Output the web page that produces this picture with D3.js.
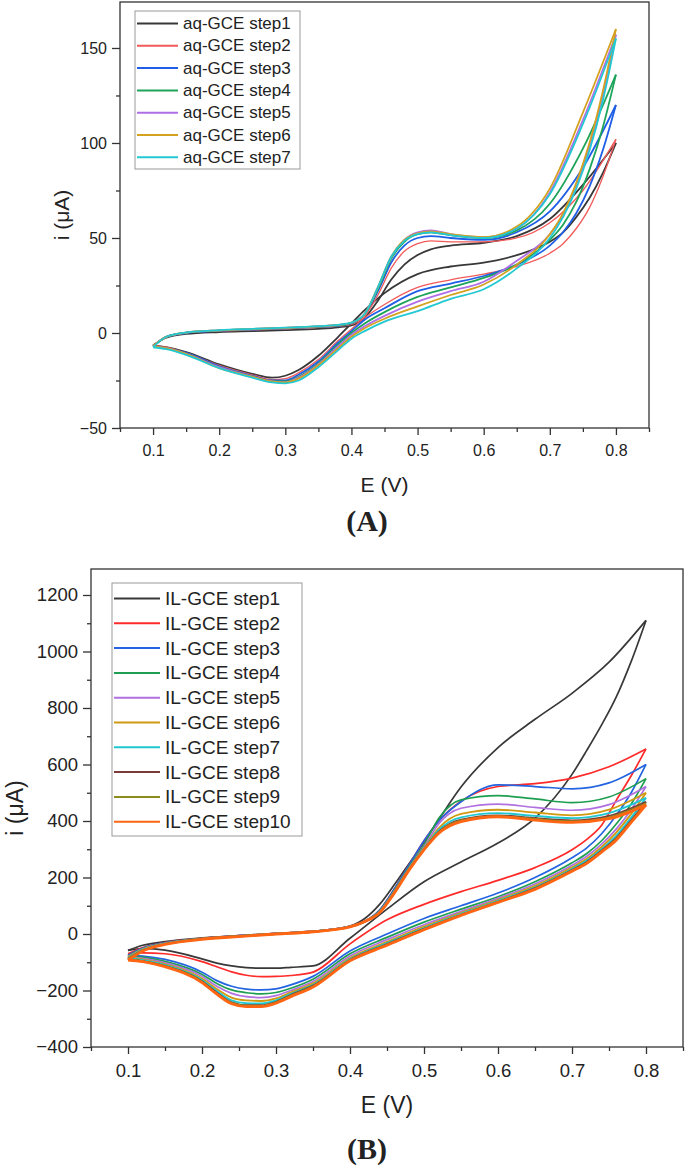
<!DOCTYPE html>
<html>
<head>
<meta charset="utf-8">
<script src="https://cdn.jsdelivr.net/npm/d3@7"></script>
<style>
  body { margin: 0; background: #fff; }
  text { font-family: "Liberation Sans", Arial, sans-serif; fill: #222; }
</style>
</head>
<body>
<svg id="chart" width="685" height="1169"></svg>
<script>
// ---- shared ----
var E_TICKS = [0.1, 0.2, 0.3, 0.4, 0.5, 0.6, 0.7, 0.8];
var E_MINOR = [0.05, 0.15, 0.25, 0.35, 0.45, 0.55, 0.65, 0.75, 0.85];

// ---- panel A : aq-GCE ----
var A_LABELS = ["aq-GCE step1", "aq-GCE step2", "aq-GCE step3", "aq-GCE step4",
                "aq-GCE step5", "aq-GCE step6", "aq-GCE step7"];
var A_COLORS = ["#383838", "#f25a5a", "#1f5ee6", "#1ea35a", "#b06ee6", "#d4a21e", "#22c8d2"];
var A_Y_TICKS = [-50, 0, 50, 100, 150];
var A_Y_MINOR = [-25, 25, 75, 125];

// forward scan (upper branch), 0.1 -> 0.8 V
var A_E_FWD = [0.10, 0.12, 0.15, 0.20, 0.25, 0.30, 0.35, 0.38, 0.40, 0.42, 0.44,
               0.46, 0.48, 0.50, 0.52, 0.55, 0.60, 0.65, 0.70, 0.75, 0.80];
var A_FWD = [
  [-6.5, -2.5, -0.5, 0.5, 1.0, 1.5, 2.2, 3.0, 4.0, 8, 17, 28, 36, 41, 44, 46, 47.5, 51, 60, 78, 100],
  [-6.5, -2.0, 0.0, 1.0, 1.6, 2.2, 3.0, 3.6, 4.6, 9, 20, 34, 43, 47, 48.5, 48, 48, 50, 58, 75, 102],
  [-7.0, -2.0, 0.0, 1.2, 1.8, 2.4, 3.2, 3.8, 5.0, 10, 22, 37, 46, 50, 51, 50, 49, 53, 64, 87, 120],
  [-7.0, -2.0, 0.2, 1.3, 2.0, 2.6, 3.4, 4.0, 5.2, 10, 23, 39, 48, 52, 53, 51.5, 50, 54, 68, 97, 136],
  [-7.0, -2.0, 0.2, 1.4, 2.1, 2.7, 3.5, 4.2, 5.4, 10, 24, 40, 49, 53, 54, 52, 50.5, 55, 74, 112, 157],
  [-7.0, -2.0, 0.2, 1.4, 2.1, 2.7, 3.5, 4.2, 5.4, 10, 24, 40, 49, 52.5, 53.5, 52, 50.5, 56, 76, 116, 160],
  [-7.5, -2.0, 0.3, 1.5, 2.2, 2.8, 3.6, 4.3, 5.5, 10, 24, 40, 48.5, 52, 53, 51.5, 50, 55, 73, 110, 155]
];
// reverse scan (lower branch), 0.8 -> 0.1 V
var A_E_REV = [0.80, 0.78, 0.76, 0.74, 0.72, 0.70, 0.65, 0.60, 0.55, 0.50, 0.45, 0.42,
               0.40, 0.38, 0.35, 0.32, 0.30, 0.28, 0.25, 0.20, 0.15, 0.12, 0.10];
var A_REV = [
  [100, 84, 71, 61, 53, 48, 41, 37, 35, 31, 21, 12, 5, -2, -12, -19.5, -22.5, -23.5, -21.5, -16.5, -10, -7.5, -6.5],
  [102, 82, 66, 55, 47, 42, 35, 31, 28, 24, 15, 8, 2, -4, -14, -21, -24, -24.5, -22, -17, -10.5, -7.5, -6.5],
  [120, 96, 77, 63, 53, 46, 36, 30, 26, 22, 13, 7, 1, -5, -15, -22, -25, -25, -22.5, -17.5, -10.5, -8, -7],
  [136, 108, 86, 69, 57, 49, 36, 29, 24, 19, 11, 5, 0, -6, -16, -23, -25.5, -25.5, -23, -18, -11, -8, -7],
  [157, 125, 98, 78, 62, 52, 38, 27, 22, 16.5, 9, 3.5, -1, -7, -16.5, -23.5, -26, -25.5, -23, -18, -11, -8, -7],
  [160, 127, 100, 79, 63, 52, 36, 25.5, 20, 14, 7.5, 2.5, -2, -8, -17, -24, -26, -25.5, -23, -18.5, -11, -8, -7],
  [155, 122, 96, 76, 61, 50, 34, 23, 18, 11.5, 6, 1, -3, -9, -18, -25, -26.5, -26, -23.5, -18.5, -11.5, -8.5, -7.5]
];

// ---- panel B : IL-GCE ----
var B_LABELS = ["IL-GCE step1", "IL-GCE step2", "IL-GCE step3", "IL-GCE step4", "IL-GCE step5",
                "IL-GCE step6", "IL-GCE step7", "IL-GCE step8", "IL-GCE step9", "IL-GCE step10"];
var B_COLORS = ["#383838", "#ff2a2a", "#2464e0", "#1e9e50", "#b070e0",
                "#d09a10", "#1ec8d0", "#7b3b3b", "#8c8c1e", "#ff6512"];
var B_Y_TICKS = [-400, -200, 0, 200, 400, 600, 800, 1000, 1200];
var B_Y_MINOR = [-300, -100, 100, 300, 500, 700, 900, 1100];

var B_E_FWD = [0.10, 0.12, 0.15, 0.20, 0.25, 0.30, 0.35, 0.40, 0.42, 0.44,
               0.46, 0.48, 0.50, 0.52, 0.55, 0.60, 0.65, 0.70, 0.75, 0.80];
var B_FWD = [
  [-58, -40, -27, -14, -6, 2, 10, 28, 55, 105, 175, 250, 325, 405, 520, 660, 760, 852, 962, 1110],
  [-70, -48, -30, -15, -6, 2, 10, 27, 45, 85, 160, 245, 330, 400, 470, 522, 532, 552, 592, 655],
  [-75, -50, -31, -16, -6, 2, 10, 27, 45, 85, 160, 245, 330, 400, 468, 528, 522, 514, 535, 600],
  [-78, -52, -32, -16, -7, 1, 9, 26, 44, 82, 155, 238, 315, 410, 475, 490, 478, 465, 485, 550],
  [-80, -53, -33, -17, -7, 1, 9, 26, 44, 80, 152, 234, 308, 390, 445, 460, 448, 438, 458, 522],
  [-82, -54, -34, -17, -7, 1, 9, 26, 44, 79, 150, 232, 304, 375, 425, 440, 430, 420, 440, 500],
  [-85, -56, -35, -18, -8, 1, 9, 26, 44, 78, 148, 230, 302, 368, 413, 428, 418, 410, 428, 482],
  [-88, -58, -36, -18, -8, 0, 8, 25, 44, 77, 147, 229, 300, 362, 405, 420, 410, 402, 418, 468],
  [-88, -58, -36, -18, -8, 0, 8, 25, 44, 76, 146, 228, 299, 360, 402, 417, 407, 399, 413, 462],
  [-92, -60, -37, -19, -9, 0, 8, 25, 44, 75, 145, 227, 298, 357, 398, 415, 403, 395, 408, 457]
];
var B_E_REV = [0.80, 0.78, 0.76, 0.74, 0.72, 0.70, 0.65, 0.60, 0.55, 0.50, 0.45, 0.40,
               0.35, 0.32, 0.30, 0.28, 0.26, 0.24, 0.22, 0.20, 0.15, 0.12, 0.10];
var B_REV = [
  [1110, 965, 840, 740, 650, 565, 410, 322, 255, 185, 88, -15, -113, -118, -121, -121, -119, -113, -103, -88, -57, -52, -58],
  [655, 560, 474, 385, 335, 298, 235, 190, 150, 105, 50, -35, -135, -147, -150, -151, -146, -134, -116, -98, -70, -67, -70],
  [600, 500, 420, 355, 305, 270, 200, 145, 100, 55, 0, -60, -150, -180, -194, -198, -195, -185, -165, -135, -90, -78, -75],
  [550, 460, 390, 330, 285, 252, 185, 132, 88, 42, -12, -70, -160, -192, -207, -212, -208, -198, -175, -143, -97, -82, -78],
  [522, 440, 372, 318, 275, 243, 177, 126, 80, 33, -20, -78, -168, -200, -218, -225, -222, -210, -185, -150, -102, -86, -80],
  [500, 425, 360, 308, 266, 236, 170, 121, 75, 26, -28, -85, -175, -207, -228, -237, -235, -225, -195, -158, -107, -90, -82],
  [482, 412, 348, 300, 260, 230, 165, 117, 71, 21, -32, -89, -180, -212, -235, -246, -245, -235, -202, -163, -110, -93, -85],
  [468, 402, 340, 295, 255, 226, 162, 114, 68, 18, -36, -92, -183, -216, -240, -252, -252, -242, -208, -167, -113, -96, -88],
  [462, 398, 337, 292, 252, 224, 160, 113, 67, 16, -38, -93, -185, -218, -242, -254, -254, -244, -211, -169, -114, -97, -88],
  [457, 395, 333, 290, 250, 222, 158, 112, 66, 15, -40, -95, -188, -222, -245, -257, -257, -247, -213, -172, -116, -98, -92]
];

var svg = d3.select("#chart");

function drawPanel(p) {
    var g = svg.append("g");
    var x = d3.scaleLinear().domain([0.05, 0.85]).range([p.left, p.right]);
    var y = d3.scaleLinear().domain(p.yDomain).range([p.bottom, p.top]);

    var line = d3.line()
        .x(function(d) { return x(d[0]); })
        .y(function(d) { return y(d[1]); })
        .curve(d3.curveMonotoneX);

    var curves = g.append("g");
    p.fwd.forEach(function(vals, k) {
        var fw = p.eFwd.map(function(e, i) { return [e, vals[i]]; });
        var rv = p.eRev.map(function(e, i) { return [e, p.rev[k][i]]; }).reverse();
        [fw, rv].forEach(function(pts) {
            curves.append("path")
                .datum(pts)
                .attr("d", line)
                .attr("fill", "none")
                .attr("stroke", p.colors[k])
                .attr("stroke-width", p.widths[k])
                .attr("stroke-linejoin", "round");
        });
    });

    // frame
    g.append("rect")
        .attr("x", p.left).attr("y", p.top)
        .attr("width", p.right - p.left).attr("height", p.bottom - p.top)
        .attr("fill", "none").attr("stroke", "#333").attr("stroke-width", 1.3);

    var xAxis = g.append("g").attr("transform", "translate(0," + p.bottom + ")")
        .call(d3.axisBottom(x).tickValues(E_TICKS).tickSize(7).tickPadding(10).tickFormat(d3.format(".1f")));
    g.append("g").attr("transform", "translate(0," + p.bottom + ")")
        .call(d3.axisBottom(x).tickValues(E_MINOR).tickSize(4).tickFormat(""));
    var yAxis = g.append("g").attr("transform", "translate(" + p.left + ",0)")
        .call(d3.axisLeft(y).tickValues(p.yTicks).tickSize(8).tickPadding(p.yPad).tickFormat(d3.format("d")));
    g.append("g").attr("transform", "translate(" + p.left + ",0)")
        .call(d3.axisLeft(y).tickValues(p.yMinor).tickSize(4).tickFormat(""));

    g.selectAll(".domain").remove();
    g.selectAll(".tick line").attr("stroke", "#333").attr("stroke-width", 1.3);
    xAxis.selectAll("text").style("font-size", p.tickFont + "px").attr("fill", "#222")
        .style("font-family", "'Liberation Sans', Arial, sans-serif");
    yAxis.selectAll("text").style("font-size", p.tickFont + "px").attr("fill", "#222")
        .style("font-family", "'Liberation Sans', Arial, sans-serif");

    // axis titles
    g.append("text")
        .attr("x", (p.left + p.right) / 2).attr("y", p.xTitleY)
        .attr("text-anchor", "middle").style("font-size", p.titleFont + "px")
        .text("E (V)");
    g.append("text")
        .attr("transform", "translate(" + p.yTitleX + "," + ((p.top + p.bottom) / 2) + ") rotate(-90)")
        .attr("text-anchor", "middle").style("font-size", p.titleFont + "px")
        .text("i (\u03bcA)");

    // panel letter
    g.append("text")
        .attr("x", 367).attr("y", p.letterY)
        .attr("text-anchor", "middle")
        .style("font-family", "'Liberation Serif', 'Times New Roman', serif")
        .style("font-weight", "bold").style("font-size", "30px")
        .text(p.letter);

    // legend
    var L = p.legend;
    var leg = g.append("g");
    leg.append("rect")
        .attr("x", L.x).attr("y", L.y).attr("width", L.w).attr("height", L.h)
        .attr("fill", "#fff").attr("stroke", "#999").attr("stroke-width", 1);
    p.labels.forEach(function(lab, k) {
        var cy = L.row0 + k * L.step;
        leg.append("line")
            .attr("x1", L.x + 2).attr("x2", L.x + 2 + L.len)
            .attr("y1", cy).attr("y2", cy)
            .attr("stroke", p.colors[k]).attr("stroke-width", 2);
        leg.append("text")
            .attr("x", L.x + L.len + 7).attr("y", cy)
            .attr("dominant-baseline", "central")
            .style("font-size", L.font + "px")
            .text(lab);
    });
}

drawPanel({
    left: 120, right: 649, top: 2, bottom: 428,
    yDomain: [-50, 174.2], yTicks: A_Y_TICKS, yMinor: A_Y_MINOR, yPad: 5,
    eFwd: A_E_FWD, eRev: A_E_REV, fwd: A_FWD, rev: A_REV,
    labels: A_LABELS, colors: A_COLORS,
    widths: [1.8, 1.3, 1.8, 1.8, 1.8, 1.8, 1.8],
    tickFont: 16, titleFont: 21, xTitleY: 492, yTitleX: 69,
    letter: "(A)", letterY: 531,
    legend: { x: 135, y: 11, w: 165, h: 158, row0: 23.5, step: 22.3, len: 41, font: 17 }
});

drawPanel({
    left: 91, right: 683, top: 569, bottom: 1047,
    yDomain: [-400, 1292], yTicks: B_Y_TICKS, yMinor: B_Y_MINOR, yPad: 5,
    eFwd: B_E_FWD, eRev: B_E_REV, fwd: B_FWD, rev: B_REV,
    labels: B_LABELS, colors: B_COLORS,
    widths: [1.7, 1.7, 1.7, 1.7, 1.7, 1.9, 1.9, 1.9, 1.9, 2.8],
    tickFont: 18.5, titleFont: 23, xTitleY: 1113, yTitleX: 23,
    letter: "(B)", letterY: 1159,
    legend: { x: 112, y: 583, w: 190, h: 253, row0: 598.5, step: 24.8, len: 46, font: 19 }
});
</script>
</body>
</html>
